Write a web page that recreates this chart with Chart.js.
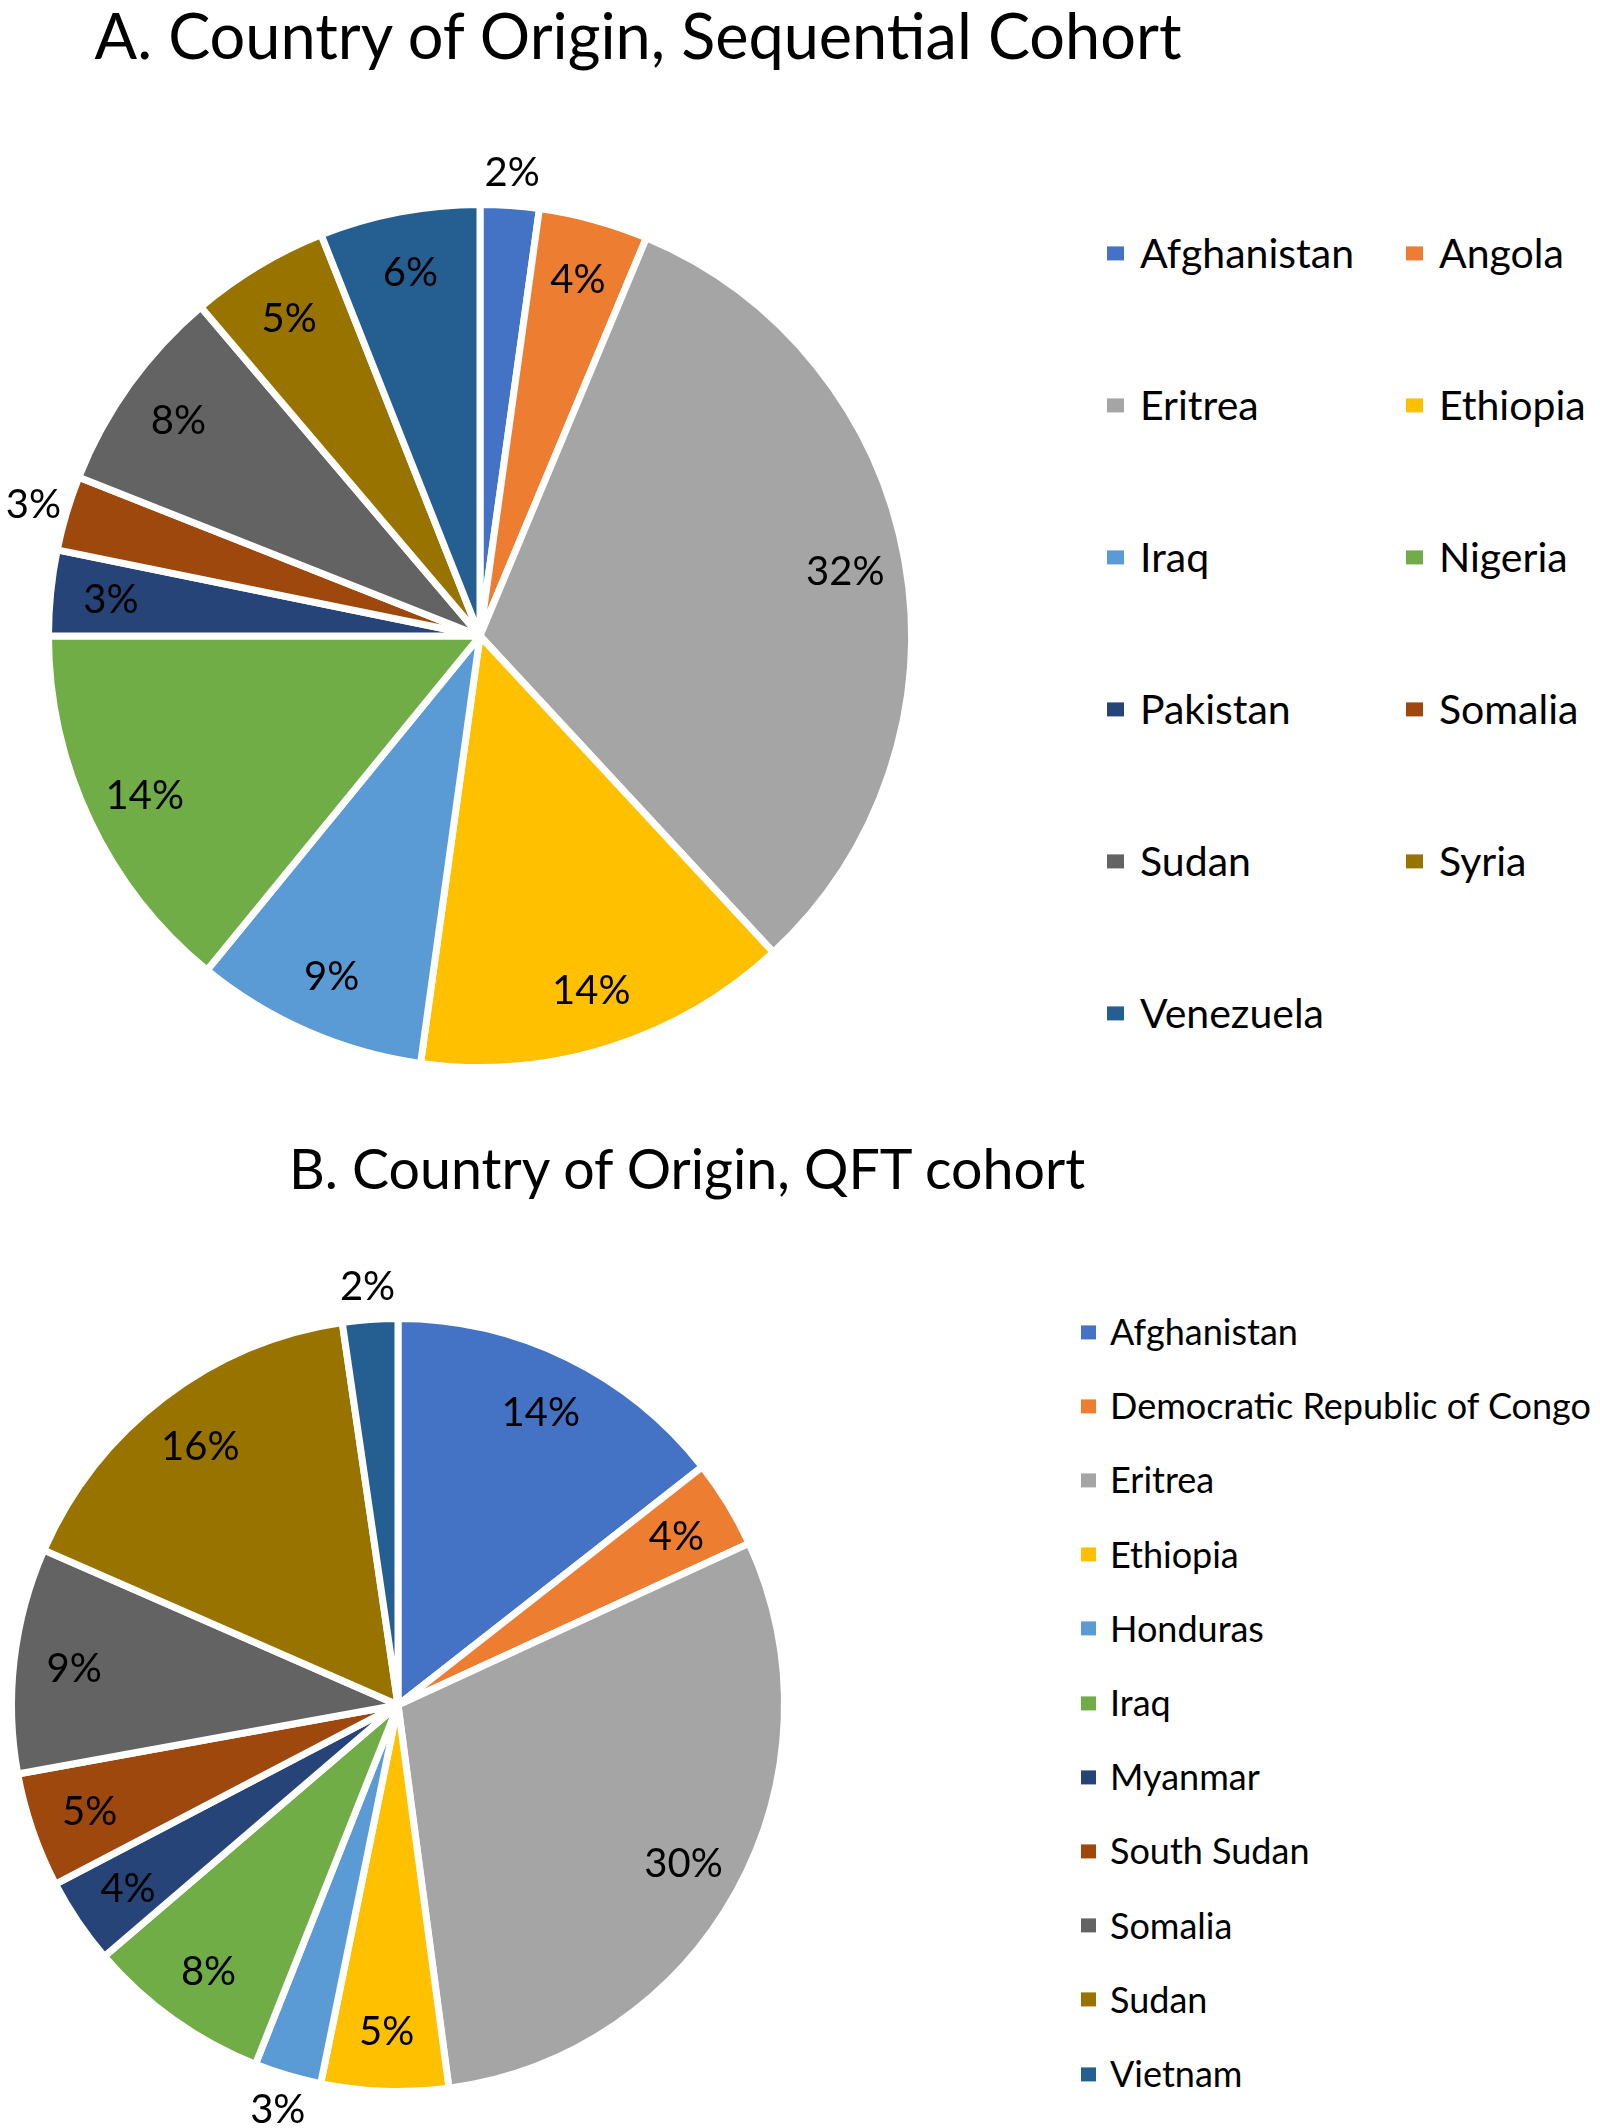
<!DOCTYPE html>
<html>
<head>
<meta charset="utf-8">
<script src="https://cdn.jsdelivr.net/npm/chart.js@4.4.0/dist/chart.umd.min.js"></script>
<style>
  html, body { margin: 0; padding: 0; background: #fff; }
  body { width: 1600px; height: 2128px; position: relative; overflow: hidden; font-family: Lato, "Open Sans", sans-serif; color: #000; }
  .title { position: absolute; white-space: nowrap; line-height: 1.2; transform: translateX(-50%); }
  #titleA { left: 638px; top: -3px; font-size: 63px; }
  #titleB { left: 687px; top: 1135px; font-size: 55.5px; }
  canvas { position: absolute; left: 0; }
  #pieA { top: 0; }
  #pieB { top: 1230px; }
  .legend { position: absolute; }
  #legendA { left: 1107px; top: 253px; font-size: 41px; }
  #legendB { left: 1081px; top: 1332px; font-size: 36px; }
  .legend .item { position: absolute; display: flex; align-items: center; white-space: nowrap; line-height: 1.2; transform: translateY(-50%); }
  .legend .sw { display: inline-block; flex: none; }
</style>
</head>
<body>
<div class="title" id="titleA">A. Country of Origin, Sequential Cohort</div>
<div class="title" id="titleB">B. Country of Origin, QFT cohort</div>
<canvas id="pieA" width="1000" height="1100"></canvas>
<canvas id="pieB" width="1000" height="898"></canvas>
<div class="legend" id="legendA"></div>
<div class="legend" id="legendB"></div>
<script>
// A. sequential cohort, share of patients (%)
const countriesA = ['Afghanistan', 'Angola', 'Eritrea', 'Ethiopia', 'Iraq', 'Nigeria', 'Pakistan', 'Somalia', 'Sudan', 'Syria', 'Venezuela'];
const sharesA = [2.2, 4.1, 31.8, 14.1, 8.7, 14.1, 3.2, 2.8, 7.8, 5.2, 6.0];

// B. QFT cohort, share of patients (%)
const countriesB = ['Afghanistan', 'Democratic Republic of Congo', 'Eritrea', 'Ethiopia', 'Honduras', 'Iraq', 'Myanmar', 'South Sudan', 'Somalia', 'Sudan', 'Vietnam'];
const sharesB = [14.4, 3.7, 29.7, 5.3, 2.8, 7.7, 3.6, 4.8, 9.4, 16.1, 2.3];

// office palette, same order in both pies
const palette = ['#4472C4', '#ED7D31', '#A5A5A5', '#FFC000', '#5B9BD5', '#70AD47', '#264478', '#9E480E', '#636363', '#997300', '#255E91'];

const BORDER = 7;

// percent labels: inside near the rim, outside for thin slices
const pctLabels = {
  id: 'pctLabels',
  afterDatasetsDraw(chart, args, opts) {
    const ctx = chart.ctx;
    const data = chart.data.datasets[0].data;
    const total = data.reduce((a, b) => a + b, 0);
    const size = opts.size;
    ctx.save();
    ctx.font = size + 'px Lato, "Open Sans", sans-serif';
    ctx.fillStyle = '#000';
    ctx.textAlign = 'center';
    ctx.textBaseline = 'alphabetic';
    chart.getDatasetMeta(0).data.forEach((arc, i) => {
      const pct = data[i] / total * 100;
      const p = arc.getProps(['x', 'y', 'startAngle', 'endAngle', 'outerRadius'], true);
      const mid = (p.startAngle + p.endAngle) / 2;
      const edge = p.outerRadius - BORDER / 2;
      const r = pct < 3 ? edge + 38 : edge - 57;
      ctx.fillText(Math.round(pct) + '%', p.x + Math.cos(mid) * r, p.y + Math.sin(mid) * r + size * 0.36);
    });
    ctx.restore();
  }
};

// legend built from the chart's own legend items
const htmlLegend = {
  id: 'htmlLegend',
  afterUpdate(chart, args, opts) {
    const box = document.getElementById(opts.containerID);
    box.innerHTML = '';
    const items = chart.options.plugins.legend.labels.generateLabels(chart);
    items.forEach((item, i) => {
      const row = document.createElement('div');
      row.className = 'item';
      row.style.left = (i % opts.cols) * opts.colGap + 'px';
      row.style.top = Math.floor(i / opts.cols) * opts.rowGap + 'px';
      const sw = document.createElement('span');
      sw.className = 'sw';
      sw.style.background = item.fillStyle;
      sw.style.width = opts.boxW + 'px';
      sw.style.height = opts.boxH + 'px';
      sw.style.marginRight = opts.gap + 'px';
      const txt = document.createElement('span');
      txt.textContent = item.text;
      row.appendChild(sw);
      row.appendChild(txt);
      box.appendChild(row);
    });
  }
};

function makePie(id, labels, values, radius, padding, legendOpts) {
  return new Chart(document.getElementById(id), {
    type: 'pie',
    data: {
      labels: labels,
      datasets: [{
        data: values,
        backgroundColor: palette,
        borderColor: '#ffffff',
        borderWidth: BORDER,
        radius: radius
      }]
    },
    options: {
      responsive: false,
      animation: false,
      events: [],
      layout: { padding: padding },
      plugins: {
        legend: { display: false },
        tooltip: { enabled: false },
        htmlLegend: legendOpts,
        pctLabels: { size: 40 }
      }
    },
    plugins: [pctLabels, htmlLegend]
  });
}

makePie('pieA', countriesA, sharesA, 428 + BORDER / 2,
  { left: 52, right: 92, top: 208, bottom: 36 },
  { containerID: 'legendA', cols: 2, colGap: 299, rowGap: 152, boxW: 17, boxH: 14, gap: 16 });

makePie('pieB', countriesB, sharesB, 383 + BORDER / 2,
  { left: 15, right: 219, top: 92, bottom: 40 },
  { containerID: 'legendB', cols: 1, colGap: 0, rowGap: 74.2, boxW: 15, boxH: 14, gap: 14 });
</script>
</body>
</html>
